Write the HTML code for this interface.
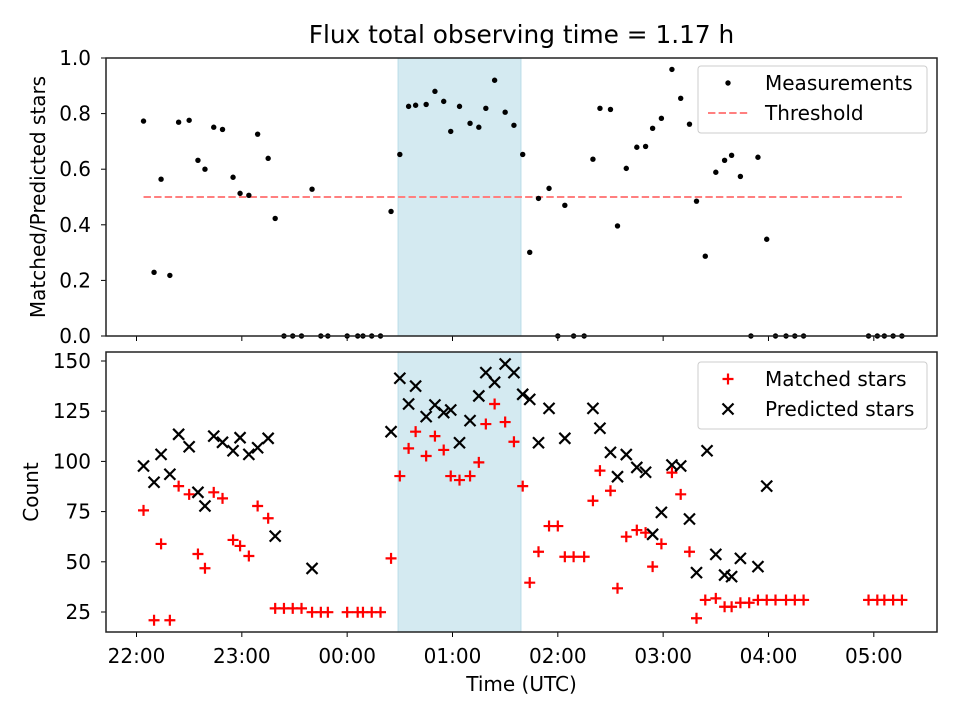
<!DOCTYPE html>
<html><head><meta charset="utf-8"><style>
body{margin:0;background:#fff}
svg{display:block;font-family:"DejaVu Sans","Liberation Sans",sans-serif}
</style></head><body>
<svg id="fig" width="960" height="720" viewBox="0 0 960 720" xmlns="http://www.w3.org/2000/svg">
<rect width="960" height="720" fill="#fff"/>
<text x="521.5" y="43" font-size="24.8" text-anchor="middle">Flux total observing time = 1.17 h</text>
<g id="top"></g><g id="bot"></g>
<text x="521.5" y="691" font-size="20" text-anchor="middle">Time (UTC)</text>
<text transform="translate(45,197) rotate(-90)" font-size="20" text-anchor="middle">Matched/Predicted stars</text>
<text transform="translate(38,492) rotate(-90)" font-size="20" text-anchor="middle">Count</text>
</svg>
<script>
// minutes since 22:00 UTC
const ratioTimes=[4,10,14,19,24,30,35,39,44,49,55,59,64,69,75,79,84,89,94,100,105,109,120,126,129,134,139,145,150,155,159,165,170,175,179,184,190,195,199,204,210,215,220,224,229,235,240,244,249,255,260,264,270,274,279,285,290,294,299,305,310,315,319,324,330,335,339,344,350,354,359,364,370,375,380,417,422,426,431,436];
const ratioValues=[.773,.229,.564,.218,.769,.776,.632,.600,.751,.743,.571,.513,.506,.726,.639,.423,0,0,0,.528,0,0,0,0,0,0,0,.448,.653,.826,.830,.833,.880,.844,.736,.826,.765,.751,.819,.920,.805,.758,.653,.301,.495,.531,0,.470,0,0,.636,.819,.815,.396,.603,.679,.682,.747,.783,.959,.855,.762,.485,.287,.589,.632,.650,.574,0,.643,.348,0,0,0,0,0,0,0,0,0];
const threshold=0.5;
const matchedTimes=[4,10,14,19,24,30,35,39,44,49,55,59,64,69,75,79,84,89,94,100,105,109,120,126,129,134,139,145,150,155,159,165,170,175,179,184,190,195,199,204,210,215,220,224,229,235,240,244,249,255,260,264,270,274,279,285,290,294,299,305,310,315,319,324,330,335,339,344,349,354,359,364,370,375,380,417,422,426,431,436];
const matchedValues=[75.6,20.9,58.9,20.9,87.7,83.6,53.9,46.8,84.6,81.6,60.9,57.9,52.9,77.8,71.7,26.8,26.8,26.8,26.8,24.9,24.9,24.9,24.9,24.9,24.9,24.9,24.9,51.7,92.7,106.5,114.8,102.7,112.6,105.7,92.7,90.7,92.7,99.5,118.6,128.6,119.6,109.8,87.7,39.6,55,67.8,67.8,52.5,52.5,52.5,80.4,95.4,85.4,36.8,62.5,65.8,64.5,47.6,58.9,94.4,83.6,55,21.9,31,31.8,27.6,27.6,29.6,29.6,31,31,31,31,31,31,31,31,31,31,31];
const predictedTimes=[4,10,14,19,24,30,35,39,44,49,55,59,64,69,75,79,100,145,150,155,159,165,170,175,179,184,190,195,199,204,210,215,220,224,229,235,244,260,264,270,274,279,285,290,294,299,305,310,315,319,325,330,335,339,344,354,359];
const predictedValues=[97.7,89.6,103.5,93.6,113.5,107.3,84.6,77.8,112.6,109.5,105.3,111.8,103.5,106.8,111.5,62.8,46.7,114.8,141.4,128.6,137.5,122.3,128.1,124.3,125.6,109.3,120.3,132.6,144.2,139.4,148.5,144.2,133.4,130.9,109.3,126.4,111.5,126.4,116.5,104.5,92.4,103.4,97,94.6,63.7,74.6,98.2,97.7,71.3,44.6,105.3,53.7,43.4,42.6,51.7,47.6,87.7];
const xTickMinutes=[0,60,120,180,240,300,360,420];
const xTickLabels=["22:00","23:00","00:00","01:00","02:00","03:00","04:00","05:00"];
const topTicks=[0,0.2,0.4,0.6,0.8,1.0];
const botTicks=[25,50,75,100,125,150];
const shadeSpan=[149,219];

const NS="http://www.w3.org/2000/svg";
const L=106,R=937;
const xS=m=>136.5+m*105.33/60;
const T={top:58,bot:336,y:v=>336-v*278};
const B={top:352,bot:632,y:v=>612-(v-25)*251/125};
function mk(p,tag,a){const e=document.createElementNS(NS,tag);for(const k in a)e.setAttribute(k,a[k]);p.appendChild(e);return e;}

function axes(g,P,ticks,fmt,showX,nm){
  const sh=mk(g,'rect',{x:xS(shadeSpan[0]),y:P.top,width:xS(shadeSpan[1])-xS(shadeSpan[0]),height:P.bot-P.top,fill:'#d4eaf1',stroke:'#b9dce7','stroke-width':1});
  
  
  ticks.forEach(v=>{const y=P.y(v);
    const t=mk(g,'line',{x1:L-5,x2:L,y1:y,y2:y,stroke:'#000','stroke-width':1});
    
    
    const tx=mk(g,'text',{x:L-15,y:y+7,'font-size':20,'text-anchor':'end'});tx.textContent=fmt(v);
    
    
  });
  xTickMinutes.forEach((m,i)=>{const x=xS(m);
    const t=mk(g,'line',{x1:x,x2:x,y1:P.bot,y2:P.bot+5,stroke:'#000','stroke-width':1});
    
    
    if(showX){const tx=mk(g,'text',{x:x,y:P.bot+31,'font-size':20,'text-anchor':'middle'});tx.textContent=xTickLabels[i];
      
      }
  });
}
function frame(g,P,nm){const f=mk(g,'rect',{x:L,y:P.top,width:R-L,height:P.bot-P.top,fill:'none',stroke:'#222','stroke-width':1.5});
  
  }

const gt=document.getElementById('top'),gb=document.getElementById('bot');
axes(gt,T,topTicks,v=>v.toFixed(1),false,'top');
const th=mk(gt,'line',{x1:xS(ratioTimes[0]),x2:xS(ratioTimes[ratioTimes.length-1]),y1:T.y(threshold),y2:T.y(threshold),stroke:'#ff7f7f','stroke-width':2,'stroke-dasharray':'7.4,3.2'});


ratioTimes.forEach((m,i)=>{const c=mk(gt,'circle',{cx:xS(m),cy:T.y(ratioValues[i]),r:2.7,fill:'#000'});
  
  });
frame(gt,T,'top');

axes(gb,B,botTicks,v=>String(v),true,'bottom');
matchedTimes.forEach((m,i)=>{const x=xS(m),y=B.y(matchedValues[i]);
  const p=mk(gb,'path',{d:`M${x-5.5},${y}H${x+5.5}M${x},${y-5.5}V${y+5.5}`,stroke:'#f00','stroke-width':2.2});
  
  });
predictedTimes.forEach((m,i)=>{const x=xS(m),y=B.y(predictedValues[i]);
  const p=mk(gb,'path',{d:`M${x-5.5},${y-5.5}L${x+5.5},${y+5.5}M${x-5.5},${y+5.5}L${x+5.5},${y-5.5}`,stroke:'#000','stroke-width':2.2});
  
  });
frame(gb,B,'bottom');

// legends
function legend(g,y0,items,nm){
  const box=mk(g,'rect',{x:698,y:y0,width:229,height:67,rx:3,fill:'#fff','fill-opacity':0.8,stroke:'#ccc','stroke-width':1});
  
  
  items.forEach((it,i)=>{const y=y0+17+i*30;
    it.draw(y);
    const t=mk(g,'text',{x:765,y:y+7,'font-size':20});t.textContent=it.label;
    
    });
}
legend(gt,66,[
 {label:'Measurements',draw:y=>{const c=mk(gt,'circle',{cx:728,cy:y,r:2.7,fill:'#000'});}},
 {label:'Threshold',draw:y=>{const l=mk(gt,'line',{x1:708,x2:748,y1:y,y2:y,stroke:'#ff7f7f','stroke-width':2,'stroke-dasharray':'7.4,3.2'});}}
],'top-legend');
legend(gb,362,[
 {label:'Matched stars',draw:y=>{const p=mk(gb,'path',{d:`M722.5,${y}H733.5M728,${y-5.5}V${y+5.5}`,stroke:'#f00','stroke-width':2.2});}},
 {label:'Predicted stars',draw:y=>{const p=mk(gb,'path',{d:`M722.5,${y-5.5}L733.5,${y+5.5}M722.5,${y+5.5}L733.5,${y-5.5}`,stroke:'#000','stroke-width':2.2});}}
],'bottom-legend');
</script>
</body></html>
